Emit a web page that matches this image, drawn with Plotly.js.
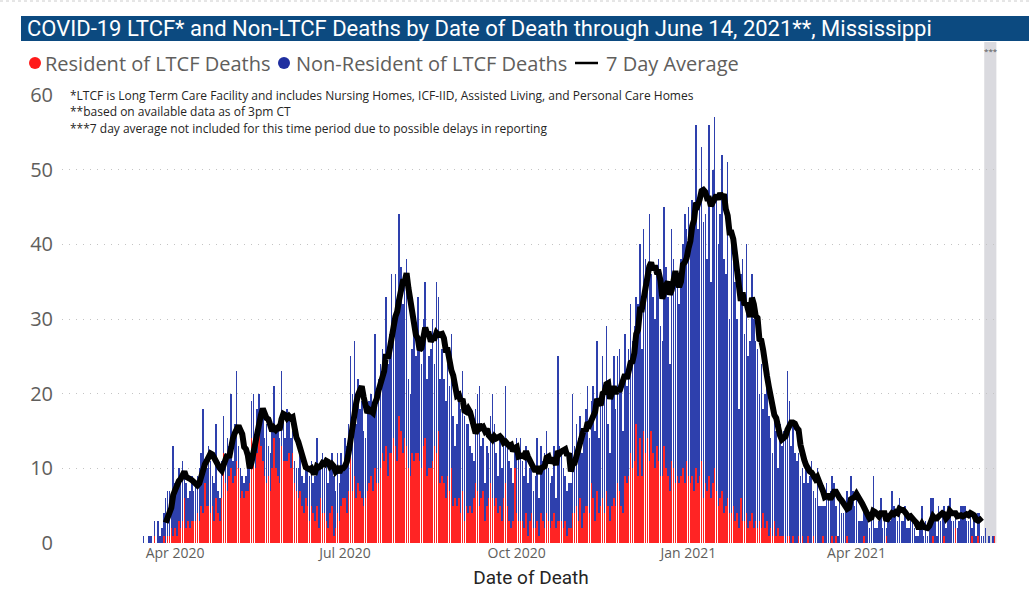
<!DOCTYPE html>
<html>
<head>
<meta charset="utf-8">
<script src="https://cdn.plot.ly/plotly-3.0.1.min.js"></script>
<style>html,body{margin:0;padding:0;background:#fff;}#chart{width:1029px;height:609px;}</style>
</head>
<body>
<div id="chart"></div>
<script>
// ---- DATA ----
const firstDate = '2020-03-15';
// Total deaths by date of death (one value per day, rows = weeks starting Sunday)
const totalDeaths = [
1,0,0,1,1,0,3,        // Mar 15
0,3,1,2,4,6,7,        // Mar 22
7,6,13,8,7,10,9,      // Mar 29
11,9,8,6,7,9,7,       // Apr 5
8,9,10,12,18,10,10,   // Apr 12
13,11,9,8,16,7,6,     // Apr 19
11,17,12,14,13,20,11, // Apr 26
16,23,13,10,9,8,9,    // May 3
10,11,19,20,14,18,20, // May 10
18,17,14,16,13,12,15, // May 17
21,15,16,14,23,17,14, // May 24
18,17,14,15,11,10,10, // May 31
12,9,8,11,10,9,11,    // Jun 7
8,9,14,10,11,12,10,   // Jun 14
11,8,10,12,9,7,12,    // Jun 21
8,12,10,14,13,16,25,  // Jun 28
20,27,16,22,18,19,15, // Jul 5
14,18,19,20,17,28,19, // Jul 12
22,24,26,25,33,24,28, // Jul 19
36,30,36,30,44,37,32, // Jul 26
36,38,22,20,26,28,25, // Aug 2
33,27,24,30,35,22,25, // Aug 9
26,30,24,35,33,22,26, // Aug 16
22,19,24,21,28,17,13, // Aug 23
16,20,18,23,17,16,16, // Aug 30
13,12,11,18,20,21,13, // Sep 6
14,8,13,12,17,20,16,  // Sep 13
12,9,14,10,13,21,13,  // Sep 20
11,10,8,13,14,12,14,  // Sep 27
11,9,13,8,10,11,7,    // Oct 4
9,14,6,13,11,12,15,   // Oct 11
10,8,9,13,6,25,13,    // Oct 18
12,10,9,7,8,8,20,     // Oct 25
13,16,14,17,12,15,18, // Nov 1
21,14,19,21,15,27,14, // Nov 8
19,25,20,29,16,12,20, // Nov 15
25,18,25,26,21,15,28, // Nov 22
21,26,32,27,29,33,32, // Nov 29
40,26,42,38,37,44,36, // Dec 6
33,30,36,38,29,27,45, // Dec 13
37,33,24,42,38,36,35, // Dec 20
32,38,40,44,42,45,42, // Dec 27
46,44,56,42,47,53,43, // Jan 3
44,38,56,35,50,57,46, // Jan 10
40,44,52,38,36,51,30, // Jan 17
40,38,35,30,18,36,38, // Jan 24
28,40,25,27,36,30,27, // Jan 31
26,20,24,18,20,22,17, // Feb 7
14,12,17,15,10,16,13, // Feb 14
15,14,23,19,13,16,12, // Feb 21
11,12,9,10,8,11,8,    // Feb 28
9,11,7,6,10,5,5,      // Mar 7
5,5,8,6,7,9,8,        // Mar 14
5,1,6,4,4,5,7,        // Mar 21
6,9,7,5,7,3,3,        // Mar 28
3,5,4,3,2,4,9,        // Apr 4
2,2,3,6,2,4,2,        // Apr 11
4,3,7,5,4,3,6,        // Apr 18
3,3,5,2,2,4,3,        // Apr 25
2,1,1,2,5,1,3,        // May 2
1,3,6,6,3,1,5,        // May 9
3,4,5,2,5,6,3,        // May 16
3,4,2,3,5,5,5,        // May 23
3,3,4,2,4,1,4,        // May 30
4,1,1,2,0,1,0,        // Jun 6
1,1                   // Jun 13-14
];
// Resident of LTCF deaths (same days)
const residentDeaths = [
0,0,0,0,0,0,1,
0,0,0,0,1,0,1,
1,2,1,2,1,3,2,
3,6,2,3,2,3,3,
3,4,3,5,4,8,5,
5,4,5,3,6,4,3,
6,12,8,7,9,10,8,
9,11,10,6,7,6,7,
7,8,14,13,10,12,15,
13,11,9,8,9,7,10,
14,10,9,8,13,11,11,
11,12,10,12,8,7,6,
7,5,4,6,5,3,5,
4,3,5,2,6,4,4,
3,2,4,5,1,2,4,
3,5,6,6,4,7,15,
7,9,6,8,7,6,5,
6,7,8,9,7,10,8,
8,10,12,11,13,9,12,
12,14,13,11,17,15,12,
14,13,10,9,12,11,12,
12,11,10,13,14,9,10,
10,11,13,12,15,8,9,
8,6,9,7,10,5,6,
5,6,4,7,3,5,4,
5,4,6,8,7,5,6,
7,3,5,6,8,6,5,
6,4,5,3,6,8,5,
3,2,3,10,4,3,3,
3,2,4,1,3,4,2,
2,3,1,4,3,2,4,
3,2,3,4,2,3,3,
3,2,3,1,2,2,4,
4,5,3,6,2,4,5,
5,4,8,6,3,7,4,
5,6,4,7,5,3,5,
6,5,8,7,5,4,9,
8,9,12,10,11,16,9,
14,9,15,12,14,11,15,
12,10,13,11,9,9,13,
10,9,7,11,10,8,9,
8,9,10,8,11,9,8,
9,7,10,8,9,11,6,
8,7,9,6,8,10,7,
5,6,7,4,5,6,4,
4,5,3,4,2,6,3,
3,4,2,3,4,2,3,
2,3,2,4,2,3,1,
2,1,3,1,2,1,1,
1,0,1,1,0,1,0,
0,1,0,1,0,0,1,
0,0,1,0,0,0,0,
1,0,0,0,0,1,0,
1,0,0,0,0,0,1,
0,0,0,0,0,0,0,
0,1,0,0,0,0,0,
0,0,0,0,0,0,1,
0,0,0,0,0,0,0,
0,0,0,0,0,0,0,
0,0,0,0,0,0,0,
0,0,0,1,0,0,0,
0,0,1,0,0,0,0,
0,2,0,0,0,0,0,
0,0,0,1,0,0,1,
0,0,0,0,0,0,0,
0,1
];
const avgFirstDate = '2020-03-27';   // 7 day average shown from
const avgLastDate  = '2021-06-07';   // ...to (later days excluded)
const tickDates  = ['2020-04-01','2020-07-01','2020-10-01','2021-01-01','2021-04-01'];
const tickLabels = ['Apr 2020','Jul 2020','Oct 2020','Jan 2021','Apr 2021'];
const excludedFrom = '2021-06-08 10:00', excludedTo = '2021-06-14 22:00';

// ---- DERIVED ----
const DAY = 86400000;
const t0 = Date.parse(firstDate + 'T00:00:00Z');
const fmt = ms => new Date(ms).toISOString().slice(0,19).replace('T',' ');
const dates = totalDeaths.map((_, i) => fmt(t0 + i*DAY).slice(0,10));
const nonResidentDeaths = totalDeaths.map((v, i) => v - residentDeaths[i]);
const iA = dates.indexOf(avgFirstDate), iB = dates.indexOf(avgLastDate);
const avgX = [], avgY = [];
for (let i = iA; i <= iB; i++) {
  let s = 0; for (let k = i-6; k <= i; k++) s += totalDeaths[k];
  avgX.push(dates[i]); avgY.push(s/7);
}

// ---- LAYOUT HELPERS (pixel -> paper) ----
const L = 62, T = 95, W = 938, H = 448;
const px = x => (x - L) / W;
const py = y => (T + H - y) / H;

const traces = [
  {type:'bar', name:'Resident of LTCF Deaths', x:dates, y:residentDeaths,
   marker:{color:'#ff2424', line:{width:0}}, showlegend:false, hoverinfo:'x+y'},
  {type:'bar', name:'Non-Resident of LTCF Deaths', x:dates, y:nonResidentDeaths,
   marker:{color:'#2e40ad', line:{width:0}}, showlegend:false, hoverinfo:'x+y'},
  {type:'scatter', mode:'lines', name:'7 Day Average', x:avgX, y:avgY,
   line:{color:'#000000', width:6}, showlegend:false}
];

const legFont = {family:'Open Sans, sans-serif', size:20, color:'#605e5c'};
const noteFont = {family:'Open Sans, sans-serif', size:12, color:'#252423'};

const layout = {
  width:1029, height:609,
  margin:{l:L, r:1029-L-W, t:T, b:609-T-H},
  paper_bgcolor:'#ffffff', plot_bgcolor:'#ffffff',
  barmode:'stack', bargap:0.18,
  showlegend:false,
  xaxis:{type:'date',
    range:[fmt(t0 - 43.55*DAY), fmt(t0 + 458.86*DAY)],
    tickmode:'array', tickvals:tickDates, ticktext:tickLabels,
    showgrid:false, zeroline:false, showline:false, ticks:'',
    tickfont:{family:'Open Sans, sans-serif', size:14, color:'#605e5c'},
    title:{text:'Date of Death', font:{family:'Roboto, sans-serif', size:19, color:'#252423'}, standoff:9}
  },
  yaxis:{range:[0,60], tickvals:[0,10,20,30,40,50,60],
    showgrid:true, gridcolor:'#c4c4c4', griddash:'1px,6px', gridwidth:1,
    zeroline:false, showline:false, ticks:'', ticklabelstandoff:8,
    tickfont:{family:'Open Sans, sans-serif', size:20, color:'#605e5c'}
  },
  shapes:[
    {type:'line', xref:'paper', yref:'paper', x0:px(0), x1:px(1029), y0:py(1), y1:py(1),
     line:{color:'#cccccc', width:1, dash:'dot'}},
    {type:'rect', xref:'paper', yref:'paper', x0:px(21), x1:px(1029), y0:py(41), y1:py(16),
     fillcolor:'#0c4a80', line:{width:0}, layer:'above'},
    {type:'rect', xref:'x', yref:'paper', x0:excludedFrom, x1:excludedTo, y0:0, y1:py(42),
     fillcolor:'#dadadf', line:{width:0}, layer:'between'},
    {type:'circle', xref:'paper', yref:'paper', x0:px(29), x1:px(41), y0:py(69), y1:py(57),
     fillcolor:'#ff1a1a', line:{width:0}},
    {type:'circle', xref:'paper', yref:'paper', x0:px(278), x1:px(290), y0:py(69), y1:py(57),
     fillcolor:'#1f2fa0', line:{width:0}},
    {type:'line', xref:'paper', yref:'paper', x0:px(575), x1:px(598), y0:py(63), y1:py(63),
     line:{color:'#000', width:2.5}}
  ],
  annotations:[
    {xref:'paper', yref:'paper', x:px(25), y:py(29), xanchor:'left', yanchor:'middle', showarrow:false,
     text:'COVID-19 LTCF* and Non-LTCF Deaths by Date of Death through June 14, 2021**, Mississippi',
     font:{family:'Roboto, sans-serif', size:22, color:'#ffffff'}},
    {xref:'paper', yref:'paper', x:px(43), y:py(63), xanchor:'left', yanchor:'middle', showarrow:false,
     text:'Resident of LTCF Deaths', font:legFont},
    {xref:'paper', yref:'paper', x:px(294), y:py(63), xanchor:'left', yanchor:'middle', showarrow:false,
     text:'Non-Resident of LTCF Deaths', font:legFont},
    {xref:'paper', yref:'paper', x:px(604), y:py(63), xanchor:'left', yanchor:'middle', showarrow:false,
     text:'7 Day Average', font:legFont},
    {xref:'paper', yref:'paper', x:px(68), y:py(95), xanchor:'left', yanchor:'middle', showarrow:false,
     text:'*LTCF is Long Term Care Facility and includes Nursing Homes, ICF-IID, Assisted Living, and Personal Care Homes', font:noteFont},
    {xref:'paper', yref:'paper', x:px(68), y:py(111.5), xanchor:'left', yanchor:'middle', showarrow:false,
     text:'**based on available data as of 3pm CT', font:noteFont},
    {xref:'paper', yref:'paper', x:px(68), y:py(128), xanchor:'left', yanchor:'middle', showarrow:false,
     text:'***7 day average not included for this time period due to possible delays in reporting', font:noteFont},
    {xref:'paper', yref:'paper', x:px(991), y:py(51), xanchor:'center', yanchor:'middle', showarrow:false,
     text:'***', font:{family:'Open Sans, sans-serif', size:8, color:'#555555'}}
  ]
};

Plotly.newPlot('chart', traces, layout, {displayModeBar:false, staticPlot:true});
</script>
</body>
</html>
